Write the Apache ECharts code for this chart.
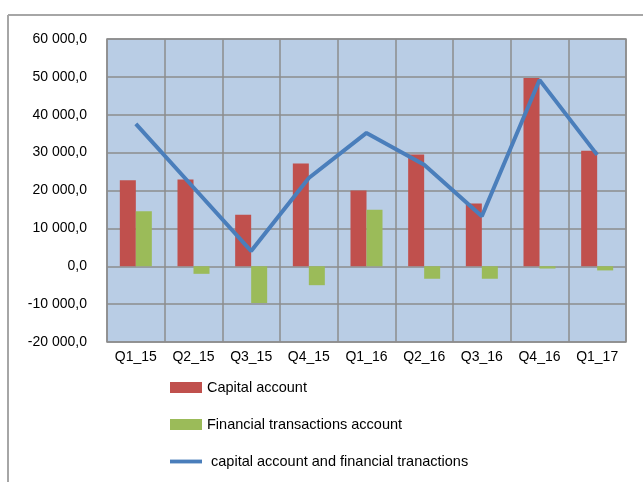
<!DOCTYPE html>
<html>
<head>
<meta charset="utf-8">
<script src="https://cdn.jsdelivr.net/npm/echarts@6/dist/echarts.min.js"></script>
<style>
  html, body { margin: 0; padding: 0; background: #fff; }
  #chart { width: 643px; height: 482px; }
</style>
</head>
<body>
<div id="chart"></div>
<script>
// data
const quarters = ['Q1_15', 'Q2_15', 'Q3_15', 'Q4_15', 'Q1_16', 'Q2_16', 'Q3_16', 'Q4_16', 'Q1_17']
const capitalAccount = [22700, 22900, 13600, 27100, 20000, 29500, 16600, 49700, 30500]
const financialAccount = [14500, -2000, -9700, -5000, 14900, -3300, -3300, -600, -1100]
const combined = [37600, 20800, 4000, 23300, 35200, 26800, 13200, 49200, 29400]

const font = 'Liberation Sans'

// "60 000,0" style
const fmt = (v) => {
  const neg = v < 0
  const s = Math.abs(v).toFixed(0).replace(/\B(?=(\d{3})+(?!\d))/g, ' ')
  return (neg ? '-' : '') + s + ',0'
}

const chart = echarts.init(document.getElementById('chart'))
chart.setOption({
  animation: false,
  textStyle: { fontFamily: font },
  grid: {
    left: 107, right: 17, top: 39, bottom: 140,
    show: true,
    backgroundColor: '#B9CDE5',
    borderColor: '#8C8C8C',
    borderWidth: 1.5
  },
  legend: {
    orient: 'vertical',
    left: 165,
    top: 375,
    itemGap: 22,
    itemWidth: 32,
    itemHeight: 11,
    textStyle: { fontFamily: font, fontSize: 14.5, color: '#000' },
    data: [
      { name: 'Capital account', icon: 'rect' },
      { name: 'Financial transactions account', icon: 'rect' },
      { name: ' capital account and financial tranactions', icon: 'path://M0,0 L100,0 L100,12 L0,12 Z' }
    ]
  },
  xAxis: {
    type: 'category',
    data: quarters,
    axisLine: { show: false, onZero: false },
    axisTick: { show: false },
    axisLabel: { color: '#000', fontSize: 14, fontFamily: font, margin: 8, interval: 0 },
    splitLine: { show: true, interval: 0, lineStyle: { color: '#8C8C8C', width: 1.5 } }
  },
  yAxis: {
    type: 'value',
    min: -20000,
    max: 60000,
    interval: 10000,
    axisLine: { show: false },
    axisTick: { show: false },
    axisLabel: { color: '#000', fontSize: 14, fontFamily: font, margin: 20, formatter: fmt },
    splitLine: { lineStyle: { color: '#8C8C8C', width: 1.5 } }
  },
  series: [
    {
      name: 'Capital account',
      type: 'bar',
      data: capitalAccount,
      barWidth: 16,
      barGap: 0,
      itemStyle: { color: '#C0504D' }
    },
    {
      name: 'Financial transactions account',
      type: 'bar',
      data: financialAccount,
      barWidth: 16,
      itemStyle: { color: '#9BBB59' }
    },
    {
      name: ' capital account and financial tranactions',
      type: 'line',
      data: combined,
      symbol: 'none',
      lineStyle: { color: '#4A7EBB', width: 4 },
      itemStyle: { color: '#4A7EBB' }
    }
  ],
  graphic: [
    { type: 'line', shape: { x1: 8, y1: 15, x2: 643, y2: 15 }, style: { stroke: '#A6A6A6', lineWidth: 2 } },
    { type: 'line', shape: { x1: 8, y1: 15, x2: 8, y2: 482 }, style: { stroke: '#A6A6A6', lineWidth: 2 } }
  ]
})
</script>
</body>
</html>
